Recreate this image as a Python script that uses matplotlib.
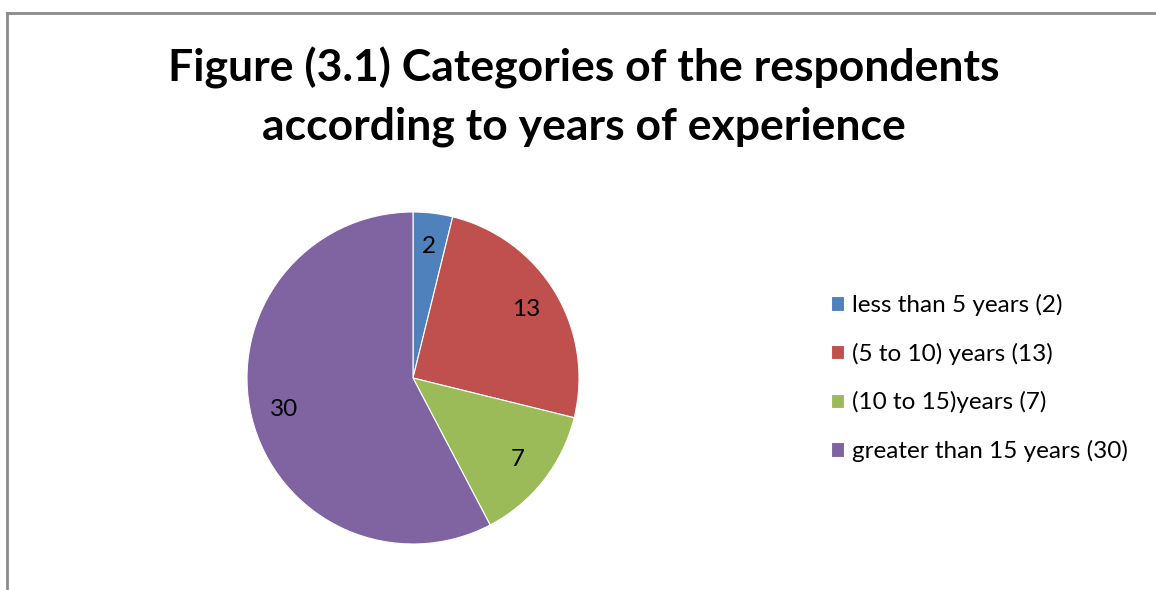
import matplotlib.pyplot as plt
from matplotlib.lines import Line2D

labels = ['less than 5 years (2)', '(5 to 10) years (13)', '(10 to 15)years (7)', 'greater than 15 years (30)']
values = [2, 13, 7, 30]
colors = ['#4F81BD', '#C0504D', '#9BBB59', '#8064A2']

plt.rcParams['font.family'] = ['Lato', 'DejaVu Sans']

W, H = 1156, 590
fig = plt.figure(figsize=(W / 100, H / 100), dpi=100)

# chart border (left and top edges visible)
fig.add_artist(Line2D([7 / W, 7 / W], [0, 1 - 13 / H], color='#8c8c8c', lw=2))
fig.add_artist(Line2D([7 / W, 1], [1 - 13 / H, 1 - 13 / H], color='#8c8c8c', lw=2))

fig.text(584 / W, 1 - 97 / H, 'Figure (3.1) Categories of the respondents\naccording to years of experience',
         ha='center', va='center', fontsize=32, fontweight='bold', linespacing=1.55)

cx, cy, r = 413, 378, 166
ax = fig.add_axes([(cx - r) / W, (H - cy - r) / H, 2 * r / W, 2 * r / H])
wedges, texts = ax.pie(values, colors=colors, startangle=90, counterclock=False,
                       labels=[str(v) for v in values], labeldistance=0.8,
                       wedgeprops=dict(edgecolor='white', linewidth=0.8),
                       textprops=dict(fontsize=17.5, ha='center', va='center'))
ax.set_xlim(-1, 1)
ax.set_ylim(-1, 1)

fig.legend(wedges, labels, loc='center left', bbox_to_anchor=(809 / W, 1 - 378 / H),
           frameon=False, fontsize=17.5, handlelength=0.55, handleheight=0.55,
           handletextpad=0.3, labelspacing=1.1)

plt.savefig('out.png', dpi=100)
